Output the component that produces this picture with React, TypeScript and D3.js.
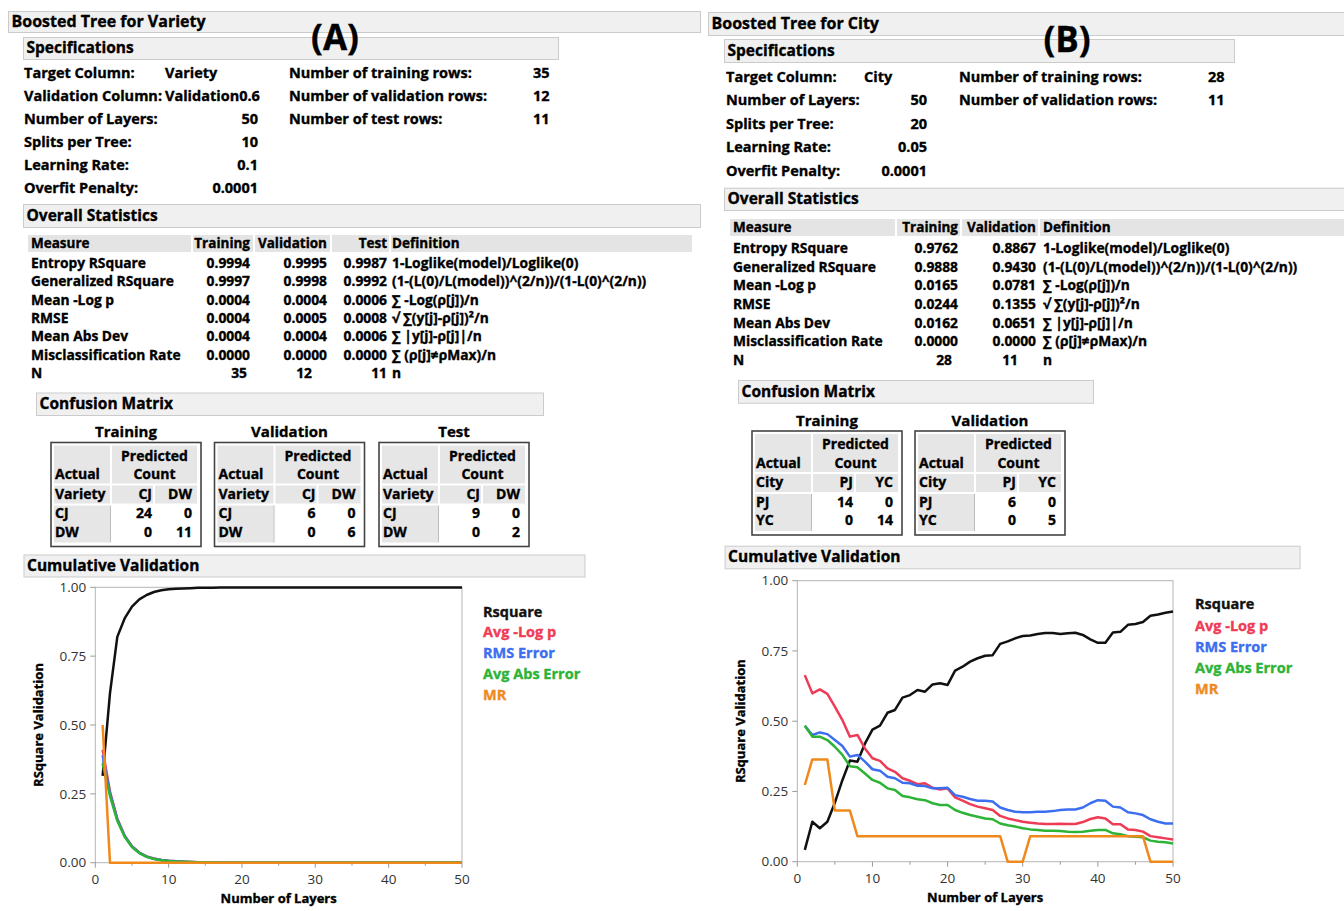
import React from "react";
import * as d3 from "d3";

const FONT = "'Open Sans', 'Noto Sans', 'DejaVu Sans', sans-serif";

// ---------- shared ----------
const measures = ["Entropy RSquare", "Generalized RSquare", "Mean -Log p", "RMSE", "Mean Abs Dev", "Misclassification Rate", "N"];
const definitions = [
  "1-Loglike(model)/Loglike(0)",
  "(1-(L(0)/L(model))^(2/n))/(1-L(0)^(2/n))",
  "∑ -Log(ρ[j])/n",
  "√ ∑(y[j]-ρ[j])²/n",
  "∑ |y[j]-ρ[j]|/n",
  "∑ (ρ[j]≠ρMax)/n",
  "n",
];
const seriesNames = ["Rsquare", "Avg -Log p", "RMS Error", "Avg Abs Error", "MR"];
const seriesColors = ["#111111", "#ee3b56", "#3c6ef0", "#2db335", "#f0891c"];
const layers = d3.range(1, 51);
const yTicks = [0, 0.25, 0.5, 0.75, 1];
const xTicks = [0, 10, 20, 30, 40, 50];
const xMinorTicks = [5, 15, 25, 35, 45];

// ---------- panel A : Variety ----------
const titleA = "Boosted Tree for Variety";
const specLabelsA = ["Target Column:", "Validation Column:", "Number of Layers:", "Splits per Tree:", "Learning Rate:", "Overfit Penalty:"];
const specValuesA = ["Variety", "Validation0.6", "50", "10", "0.1", "0.0001"];
const rowLabelsA = ["Number of training rows:", "Number of validation rows:", "Number of test rows:"];
const rowValuesA = ["35", "12", "11"];
const statColumnsA = ["Training", "Validation", "Test"];
const statTrainingA = ["0.9994", "0.9997", "0.0004", "0.0004", "0.0004", "0.0000", "35"];
const statValidationA = ["0.9995", "0.9998", "0.0004", "0.0005", "0.0004", "0.0000", "12"];
const statTestA = ["0.9987", "0.9992", "0.0006", "0.0008", "0.0006", "0.0000", "11"];
const matrixSetsA = ["Training", "Validation", "Test"];
const targetA = "Variety";
const classesA = ["CJ", "DW"];
const countsA = [
  [[24, 0], [0, 11]],
  [[6, 0], [0, 6]],
  [[9, 0], [0, 2]],
];
const rsquareA = [0.315, 0.615, 0.82, 0.887, 0.93, 0.956, 0.972, 0.983, 0.989, 0.993, 0.995, 0.996, 0.997, 0.998, 0.998,
  0.9985, 0.999, 0.999, 0.999, 0.9992, 0.9992, 0.9993, 0.9993, 0.9993, 0.9994, 0.9994, 0.9994, 0.9994, 0.9994, 0.9995,
  0.9995, 0.9995, 0.9995, 0.9995, 0.9995, 0.9995, 0.9995, 0.9995, 0.9995, 0.9995, 0.9995, 0.9995, 0.9995, 0.9995, 0.9995,
  0.9995, 0.9995, 0.9995, 0.9995, 0.9995];
const logpA = [0.41, 0.258, 0.16, 0.098, 0.06, 0.037, 0.023, 0.015, 0.01, 0.007, 0.005, 0.0035, 0.0025, 0.002, 0.0015,
  0.0012, 0.001, 0.0008, 0.0007, 0.0006, 0.0006, 0.0006, 0.0005, 0.0005, 0.0005, 0.0005, 0.0005, 0.0005, 0.0005, 0.0005,
  0.0005, 0.0005, 0.0004, 0.0004, 0.0004, 0.0004, 0.0004, 0.0004, 0.0004, 0.0004, 0.0004, 0.0004, 0.0004, 0.0004, 0.0004,
  0.0004, 0.0004, 0.0004, 0.0004, 0.0004];
const rmsA = [0.39, 0.252, 0.157, 0.097, 0.059, 0.036, 0.022, 0.014, 0.0095, 0.0068, 0.005, 0.0035, 0.0025, 0.002, 0.0016,
  0.0013, 0.0011, 0.0009, 0.0008, 0.0007, 0.0007, 0.0006, 0.0006, 0.0006, 0.0006, 0.0006, 0.0005, 0.0005, 0.0005, 0.0005,
  0.0005, 0.0005, 0.0005, 0.0005, 0.0005, 0.0005, 0.0005, 0.0005, 0.0005, 0.0005, 0.0005, 0.0005, 0.0005, 0.0005, 0.0005,
  0.0005, 0.0005, 0.0005, 0.0005, 0.0005];
const absA = [0.36, 0.243, 0.152, 0.094, 0.057, 0.035, 0.021, 0.0135, 0.009, 0.0065, 0.0047, 0.0033, 0.0024, 0.0019, 0.0015,
  0.0012, 0.001, 0.0008, 0.0007, 0.0006, 0.0006, 0.0005, 0.0005, 0.0005, 0.0005, 0.0005, 0.0005, 0.0004, 0.0004, 0.0004,
  0.0004, 0.0004, 0.0004, 0.0004, 0.0004, 0.0004, 0.0004, 0.0004, 0.0004, 0.0004, 0.0004, 0.0004, 0.0004, 0.0004, 0.0004,
  0.0004, 0.0004, 0.0004, 0.0004, 0.0004];
const mrA = [0.5, 0, 0, 0, 0, 0, 0, 0, 0, 0, 0, 0, 0, 0, 0, 0, 0, 0, 0, 0, 0, 0, 0, 0, 0,
  0, 0, 0, 0, 0, 0, 0, 0, 0, 0, 0, 0, 0, 0, 0, 0, 0, 0, 0, 0, 0, 0, 0, 0, 0];

// ---------- panel B : City ----------
const titleB = "Boosted Tree for City";
const specLabelsB = ["Target Column:", "Number of Layers:", "Splits per Tree:", "Learning Rate:", "Overfit Penalty:"];
const specValuesB = ["City", "50", "20", "0.05", "0.0001"];
const rowLabelsB = ["Number of training rows:", "Number of validation rows:"];
const rowValuesB = ["28", "11"];
const statColumnsB = ["Training", "Validation"];
const statTrainingB = ["0.9762", "0.9888", "0.0165", "0.0244", "0.0162", "0.0000", "28"];
const statValidationB = ["0.8867", "0.9430", "0.0781", "0.1355", "0.0651", "0.0000", "11"];
const matrixSetsB = ["Training", "Validation"];
const targetB = "City";
const classesB = ["PJ", "YC"];
const countsB = [
  [[14, 0], [0, 14]],
  [[6, 0], [0, 5]],
];
const rsquareB = [0.042, 0.142, 0.119, 0.142, 0.21, 0.29, 0.36, 0.356, 0.42, 0.47, 0.484, 0.53, 0.54, 0.584, 0.593,
  0.611, 0.605, 0.631, 0.635, 0.629, 0.68, 0.694, 0.712, 0.724, 0.733, 0.735, 0.775, 0.784, 0.795, 0.803,
  0.805, 0.81, 0.814, 0.814, 0.81, 0.813, 0.815, 0.807, 0.791, 0.779, 0.779, 0.816, 0.818, 0.843, 0.846,
  0.853, 0.875, 0.88, 0.886, 0.89];
const logpB = [0.664, 0.599, 0.613, 0.597, 0.552, 0.504, 0.445, 0.451, 0.403, 0.368, 0.359, 0.332, 0.32, 0.297, 0.288,
  0.276, 0.279, 0.263, 0.257, 0.261, 0.229, 0.217, 0.205, 0.196, 0.19, 0.184, 0.163, 0.154, 0.148, 0.142,
  0.139, 0.136, 0.134, 0.134, 0.135, 0.134, 0.134, 0.141, 0.152, 0.158, 0.154, 0.133, 0.133, 0.115, 0.113,
  0.107, 0.091, 0.087, 0.083, 0.079];
const rmsB = [0.484, 0.451, 0.46, 0.454, 0.433, 0.412, 0.374, 0.38, 0.356, 0.329, 0.324, 0.302, 0.297, 0.281, 0.279,
  0.27, 0.269, 0.261, 0.261, 0.263, 0.237, 0.231, 0.223, 0.217, 0.217, 0.214, 0.193, 0.184, 0.178, 0.176,
  0.176, 0.178, 0.178, 0.18, 0.184, 0.186, 0.186, 0.193, 0.208, 0.219, 0.217, 0.196, 0.193, 0.176, 0.172,
  0.166, 0.151, 0.142, 0.136, 0.136];
const absB = [0.484, 0.445, 0.445, 0.433, 0.409, 0.38, 0.34, 0.336, 0.314, 0.291, 0.281, 0.261, 0.255, 0.234, 0.229,
  0.222, 0.219, 0.208, 0.202, 0.202, 0.184, 0.174, 0.166, 0.16, 0.154, 0.151, 0.136, 0.13, 0.125, 0.119,
  0.115, 0.113, 0.11, 0.11, 0.109, 0.107, 0.106, 0.107, 0.11, 0.113, 0.113, 0.101, 0.098, 0.091, 0.089,
  0.087, 0.075, 0.071, 0.069, 0.065];
const mrB = [0.273, 0.364, 0.364, 0.364, 0.182, 0.182, 0.182, 0.091, 0.091, 0.091, 0.091, 0.091, 0.091, 0.091, 0.091,
  0.091, 0.091, 0.091, 0.091, 0.091, 0.091, 0.091, 0.091, 0.091, 0.091, 0.091, 0.091, 0, 0, 0,
  0.091, 0.091, 0.091, 0.091, 0.091, 0.091, 0.091, 0.091, 0.091, 0.091, 0.091, 0.091, 0.091, 0.091, 0.091,
  0.091, 0, 0, 0, 0];

// ---------- layouts ----------
const layoutA = {
  title: { x: 8, y: 11, w: 692, h: 21 },
  tag: { text: "(A)", x: 335, y: 38 },
  specBar: { x: 23, y: 37, w: 535, h: 22 },
  spec: { labelX: 24, leftX: 165, rightX: 258, label2X: 289, value2X: 533, y0: 73.3, step: 23 },
  statBar: { x: 23, y: 204, w: 677, h: 23 },
  stat: { hy0: 235, hy1: 252, cells: [[28, 191], [193, 253], [255, 330], [332, 389], [391, 692]], textRight: [250, 327, 387], nShift: [-3, -15, 0], measureX: 31, defX: 392, y0: 263, step: 18.35 },
  confBar: { x: 36, y: 392.5, w: 507, h: 22.5 },
  matrices: { lefts: [51, 214.5, 379], top: 442.5, titleY: 431.5 },
  cumBar: { x: 23.5, y: 554.5, w: 561, h: 22 },
  chart: { x0: 95.3, x1: 462, y0: 587.3, y1: 862.7, legendX: 483, legendY0: 611.7, legendStep: 20.7, yTitleX: 38, xTitleY: 898 },
};
const layoutB = {
  title: { x: 708, y: 12, w: 640, h: 23 },
  tag: { text: "(B)", x: 1067, y: 40 },
  specBar: { x: 724, y: 39, w: 510, h: 23 },
  spec: { labelX: 726, leftX: 864, rightX: 927, label2X: 959, value2X: 1208, y0: 77, step: 23.4 },
  statBar: { x: 724, y: 187.7, w: 624, h: 22.3 },
  stat: { hy0: 219, hy1: 236, cells: [[730, 895], [897, 960], [962, 1038], [1040, 1348]], textRight: [958, 1036], nShift: [-6, -18], measureX: 733, defX: 1043, y0: 248, step: 18.7 },
  confBar: { x: 738, y: 380, w: 355, h: 22.7 },
  matrices: { lefts: [752, 915], top: 431, titleY: 420.7 },
  cumBar: { x: 724.6, y: 545.7, w: 575, h: 22.6 },
  chart: { x0: 797.3, x1: 1173, y0: 580.7, y1: 861.7, legendX: 1195, legendY0: 604.3, legendStep: 21.2, yTitleX: 740, xTitleY: 897.7 },
};

function Txt({ x, y, size = 14, weight = 700, anchor = "start", fill = "#000", children, transform }: any) {
  const bold = weight >= 700;
  return (
    <text x={x} y={y} dy="0.35em" fontSize={size} fontWeight={weight} textAnchor={anchor}
      fill={fill} stroke={bold ? fill : "none"} strokeWidth={bold ? 0.35 : 0}
      fontFamily={FONT} transform={transform}>{children}</text>
  );
}

function Bar({ b, label, size = 15.5 }: any) {
  return (
    <g>
      <rect x={b.x + 0.5} y={b.y + 0.5} width={b.w} height={b.h} fill="#f0f0f0" stroke="#cbcbcb" />
      <Txt x={b.x + 3.5} y={b.y + b.h / 2} size={size}>{label}</Txt>
    </g>
  );
}

function Specs({ L, labels, values, labels2, values2 }: any) {
  return (
    <g>
      {labels.map((lab: string, i: number) => {
        const y = L.y0 + i * L.step;
        const v = values[i];
        const numeric = !isNaN(+v);
        return (
          <g key={i}>
            <Txt x={L.labelX} y={y} size={14.5}>{lab}</Txt>
            <Txt x={numeric ? L.rightX : L.leftX} y={y} size={14.5} anchor={numeric ? "end" : "start"}>{v}</Txt>
          </g>
        );
      })}
      {labels2.map((lab: string, i: number) => {
        const y = L.y0 + i * L.step;
        return (
          <g key={"r" + i}>
            <Txt x={L.label2X} y={y} size={14.5}>{lab}</Txt>
            <Txt x={L.value2X} y={y} size={14.5}>{values2[i]}</Txt>
          </g>
        );
      })}
    </g>
  );
}

function Stats({ L, columns, cols }: any) {
  const hy = (L.hy0 + L.hy1) / 2;
  return (
    <g>
      {L.cells.map((c: number[], i: number) => (
        <rect key={i} x={c[0]} y={L.hy0} width={c[1] - c[0]} height={L.hy1 - L.hy0} fill="#e4e4e4" />
      ))}
      <Txt x={L.measureX} y={hy} size={13.5}>Measure</Txt>
      {columns.map((c: string, i: number) => (
        <Txt key={c} x={L.textRight[i]} y={hy} size={13.5} anchor="end">{c}</Txt>
      ))}
      <Txt x={L.defX} y={hy} size={13.5}>Definition</Txt>
      {measures.map((m, r) => {
        const y = L.y0 + r * L.step;
        const last = r === measures.length - 1;
        return (
          <g key={m}>
            <Txt x={L.measureX} y={y} size={13.8}>{m}</Txt>
            {cols.map((col: string[], i: number) => (
              <Txt key={i} x={L.textRight[i] + (last ? L.nShift[i] : 0)} y={y} size={13.8} anchor="end">{col[r]}</Txt>
            ))}
            <Txt x={L.defX} y={y} size={13.8}>{definitions[r]}</Txt>
          </g>
        );
      })}
    </g>
  );
}

function Matrix({ left, top, titleY, title, target, classes, counts }: any) {
  const W = 150, H = 104;
  const lab = [left + 3, left + 59];
  const pred = [left + 61, left + 146];
  const sub = [[left + 61, left + 102], [left + 104, left + 146]];
  const valRight = [left + 101, left + 141];
  const rowY = [top + 71, top + 89.3];
  return (
    <g>
      <Txt x={left + W / 2} y={titleY} size={15} anchor="middle">{title}</Txt>
      <rect x={left} y={top} width={W} height={H} fill="#fff" stroke="#444" strokeWidth={1.6} />
      <rect x={lab[0]} y={top + 3} width={lab[1] - lab[0]} height={38} fill="#e6e6e6" />
      <rect x={pred[0]} y={top + 3} width={pred[1] - pred[0]} height={38} fill="#e6e6e6" />
      <rect x={lab[0]} y={top + 43} width={lab[1] - lab[0]} height={18} fill="#e6e6e6" />
      {sub.map((s, i) => (
        <rect key={i} x={s[0]} y={top + 43} width={s[1] - s[0]} height={18} fill="#e6e6e6" />
      ))}
      <rect x={lab[0]} y={top + 63} width={lab[1] - lab[0]} height={37} fill="#e6e6e6" />
      <line x1={lab[1] + 0.5} x2={lab[1] + 0.5} y1={top + 63} y2={top + 100} stroke="#bdbdbd" />
      <Txt x={(pred[0] + pred[1]) / 2} y={top + 13.4} size={14} anchor="middle">Predicted</Txt>
      <Txt x={(pred[0] + pred[1]) / 2} y={top + 32} size={14} anchor="middle">Count</Txt>
      <Txt x={lab[0] + 1} y={top + 32} size={14}>Actual</Txt>
      <Txt x={lab[0] + 1} y={top + 51.5} size={14}>{target}</Txt>
      {classes.map((c: string, i: number) => (
        <Txt key={"h" + c} x={valRight[i]} y={top + 51.5} size={14} anchor="end">{c}</Txt>
      ))}
      {classes.map((c: string, r: number) => (
        <g key={"r" + c}>
          <Txt x={lab[0] + 1} y={rowY[r]} size={14}>{c}</Txt>
          {counts[r].map((v: number, i: number) => (
            <Txt key={i} x={valRight[i]} y={rowY[r]} size={14} anchor="end">{v}</Txt>
          ))}
        </g>
      ))}
    </g>
  );
}

function Chart({ L, series }: any) {
  const x = d3.scaleLinear().domain([0, 50]).range([L.x0, L.x1]);
  const y = d3.scaleLinear().domain([0, 1]).range([L.y1, L.y0]);
  const line = d3.line<number>().x((_, i) => x(layers[i])).y((d) => y(d));
  const yMid = (L.y0 + L.y1) / 2;
  return (
    <g>
      <rect x={L.x0} y={L.y0} width={L.x1 - L.x0} height={L.y1 - L.y0} fill="#fff" stroke="#b4b4b4" strokeWidth={1} />
      {yTicks.map((t) => (
        <g key={t}>
          <line x1={L.x0 - 5} x2={L.x0} y1={y(t)} y2={y(t)} stroke="#9a9a9a" />
          <Txt x={L.x0 - 9} y={y(t)} size={13.5} weight={400} anchor="end" fill="#333">{d3.format(".2f")(t)}</Txt>
        </g>
      ))}
      {xTicks.map((t) => (
        <g key={t}>
          <line x1={x(t)} x2={x(t)} y1={L.y1} y2={L.y1 + 5} stroke="#9a9a9a" />
          <Txt x={x(t)} y={L.y1 + 17} size={13.5} weight={400} anchor="middle" fill="#333">{t}</Txt>
        </g>
      ))}
      {xMinorTicks.map((t) => (
        <line key={t} x1={x(t)} x2={x(t)} y1={L.y1} y2={L.y1 + 3} stroke="#9a9a9a" />
      ))}
      {series.map((s: number[], i: number) => (
        <path key={i} d={line(s) || ""} fill="none" stroke={seriesColors[i]} strokeWidth={2.5}
          strokeLinejoin="round" strokeLinecap="butt" />
      ))}
      <Txt x={(L.x0 + L.x1) / 2} y={L.xTitleY} size={13} anchor="middle">Number of Layers</Txt>
      <Txt x={0} y={0} size={13} anchor="middle" transform={`translate(${L.yTitleX},${yMid}) rotate(-90)`}>RSquare Validation</Txt>
      {seriesNames.map((n, i) => (
        <Txt key={n} x={L.legendX} y={L.legendY0 + i * L.legendStep} size={14.5} fill={seriesColors[i]}>{n}</Txt>
      ))}
    </g>
  );
}

function Panel({ L, title, specLabels, specValues, rowLabels, rowValues, statColumns, statCols,
  matrixSets, target, classes, counts, series }: any) {
  return (
    <g>
      <Bar b={L.title} label={title} size={16} />
      <Bar b={L.specBar} label="Specifications" />
      <Txt x={L.tag.x} y={L.tag.y} size={35} anchor="middle">{L.tag.text}</Txt>
      <Specs L={L.spec} labels={specLabels} values={specValues} labels2={rowLabels} values2={rowValues} />
      <Bar b={L.statBar} label="Overall Statistics" />
      <Stats L={L.stat} columns={statColumns} cols={statCols} />
      <Bar b={L.confBar} label="Confusion Matrix" />
      {matrixSets.map((m: string, i: number) => (
        <Matrix key={m} left={L.matrices.lefts[i]} top={L.matrices.top} titleY={L.matrices.titleY}
          title={m} target={target} classes={classes} counts={counts[i]} />
      ))}
      <Bar b={L.cumBar} label="Cumulative Validation" />
      <Chart L={L.chart} series={series} />
    </g>
  );
}

export default function App() {
  return (
    <svg width={1344} height={911} viewBox="0 0 1344 911"
      style={{ position: "absolute", left: 0, top: 0, background: "#fff" }}>
      <rect width={1344} height={911} fill="#fff" />
      <Panel L={layoutA} title={titleA} specLabels={specLabelsA} specValues={specValuesA}
        rowLabels={rowLabelsA} rowValues={rowValuesA} statColumns={statColumnsA}
        statCols={[statTrainingA, statValidationA, statTestA]} matrixSets={matrixSetsA}
        target={targetA} classes={classesA} counts={countsA}
        series={[rsquareA, logpA, rmsA, absA, mrA]} />
      <Panel L={layoutB} title={titleB} specLabels={specLabelsB} specValues={specValuesB}
        rowLabels={rowLabelsB} rowValues={rowValuesB} statColumns={statColumnsB}
        statCols={[statTrainingB, statValidationB]} matrixSets={matrixSetsB}
        target={targetB} classes={classesB} counts={countsB}
        series={[rsquareB, logpB, rmsB, absB, mrB]} />
    </svg>
  );
}
